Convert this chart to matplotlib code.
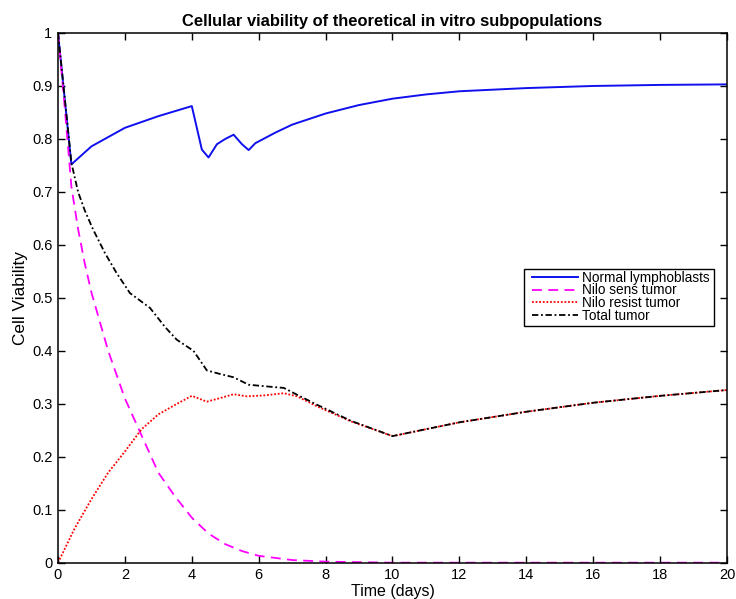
import matplotlib
matplotlib.use("Agg")
import matplotlib.pyplot as plt
from matplotlib.patches import Rectangle

plt.rcParams['font.family'] = ['Liberation Sans', 'DejaVu Sans']

# ---- data ----
t_normal = [0, 0.4, 1, 2, 3, 4, 4.3, 4.5, 4.75, 5.0, 5.25, 5.5, 5.7, 5.9,
            6.5, 7, 8, 9, 10, 11, 12, 14, 16, 18, 20]
v_normal = [1.0, 0.752, 0.786, 0.821, 0.843, 0.862, 0.78, 0.765, 0.79, 0.80,
            0.808, 0.79, 0.779, 0.792, 0.812, 0.827, 0.848, 0.864, 0.876,
            0.884, 0.89, 0.896, 0.900, 0.902, 0.903]

t_sens = [0, 0.2, 0.4, 0.6, 0.8, 1.0, 1.5, 2.0, 2.5, 3.0, 3.5, 4.0, 4.5,
          5.0, 5.5, 6.0, 7.0, 8.0, 10.0, 20.0]
v_sens = [1.0, 0.86, 0.71, 0.63, 0.565, 0.51, 0.40, 0.31, 0.24, 0.17,
          0.125, 0.085, 0.055, 0.035, 0.022, 0.013, 0.005, 0.002, 0.0, 0.0]

t_resist = [0, 0.5, 1.0, 1.5, 2.0, 2.5, 3.0, 3.5, 4.0, 4.45, 4.8, 5.25,
            5.65, 6.2, 6.75, 7.15, 7.75, 8.75, 10, 12, 14, 16, 18, 20]
v_resist = [0.0, 0.065, 0.12, 0.17, 0.21, 0.252, 0.28, 0.298, 0.315, 0.304,
            0.31, 0.318, 0.314, 0.316, 0.32, 0.314, 0.295, 0.267, 0.239,
            0.265, 0.285, 0.302, 0.315, 0.326]

t_total = [0, 0.4, 0.6, 0.8, 1.05, 1.4, 1.75, 2.15, 2.75, 3.2, 3.55, 4.05,
           4.45, 4.8, 5.25, 5.7, 6.2, 6.75, 7.15, 7.75, 8.75, 10, 12, 14,
           16, 18, 20]
v_total = [1.0, 0.755, 0.70, 0.665, 0.629, 0.585, 0.547, 0.509, 0.481,
           0.445, 0.421, 0.40, 0.363, 0.357, 0.350, 0.336, 0.333, 0.33,
           0.317, 0.298, 0.268, 0.239, 0.265, 0.285, 0.302, 0.315, 0.326]

labels = ["Normal lymphoblasts", "Nilo sens tumor", "Nilo resist tumor",
          "Total tumor"]
x_ticks = [0, 2, 4, 6, 8, 10, 12, 14, 16, 18, 20]
y_ticks = [0, 0.1, 0.2, 0.3, 0.4, 0.5, 0.6, 0.7, 0.8, 0.9, 1]

# ---- figure ----
W, H = 736, 599
fig = plt.figure(figsize=(W / 100, H / 100), dpi=100)
ax_l, ax_r, ax_t, ax_b = 58, 727, 33, 562.7
ax = fig.add_axes([ax_l / W, (H - ax_b) / H, (ax_r - ax_l) / W,
                   (ax_b - ax_t) / H])

ax.plot(t_normal, v_normal, color='#1010ee', lw=1.4, label=labels[0])
ax.plot(t_sens, v_sens, color='#ff00ff', lw=1.3, ls=(0, (5.5, 3.5)),
        label=labels[1])
ax.plot(t_resist, v_resist, color='#ff0000', lw=1.3, ls=(0, (1, 1)),
        label=labels[2])
ax.plot(t_total, v_total, color='black', lw=1.3, ls=(0, (3.5, 1.5, 1, 1.5)),
        label=labels[3])

ax.set_xlim(0, 20)
ax.set_ylim(0, 1)
ax.set_xticks(x_ticks)
ax.set_xticklabels([str(v) for v in x_ticks])
ax.set_yticks(y_ticks)
ax.set_yticklabels(['0', '0.1', '0.2', '0.3', '0.4', '0.5', '0.6', '0.7',
                    '0.8', '0.9', '1'])
ax.tick_params(direction='in', top=True, right=True, length=5, width=1,
               labelsize=10.5, pad=4)
for s in ax.spines.values():
    s.set_linewidth(1.1)

ax.set_title("Cellular viability of theoretical in vitro subpopulations",
             fontsize=11.85, fontweight='bold', pad=5)
ax.set_xlabel("Time (days)", fontsize=11.5, labelpad=1)
ax.set_ylabel("Cell Viability", fontsize=12.4, labelpad=3)

# legend: frame drawn as a rectangle (axes coords from pixel box)
def ax_x(px):
    return (px - ax_l) / (ax_r - ax_l)

def ax_y(py):
    return (ax_b - py) / (ax_b - ax_t)

bx0, bx1, by0, by1 = 523.5, 714, 269.3, 325.7
ax.add_patch(Rectangle((ax_x(bx0), ax_y(by1)), ax_x(bx1) - ax_x(bx0),
                       ax_y(by0) - ax_y(by1), transform=ax.transAxes,
                       fill=True, facecolor='white', edgecolor='black',
                       lw=1.0, zorder=4))
leg = ax.legend(loc='upper left', bbox_to_anchor=(ax_x(532), ax_y(270.8)),
                fontsize=9.8, frameon=False, handlelength=3.4,
                handletextpad=0.3, borderpad=0.0, labelspacing=-0.1,
                borderaxespad=0)
leg.set_zorder(5)

fig.savefig("out.png", dpi=100)
